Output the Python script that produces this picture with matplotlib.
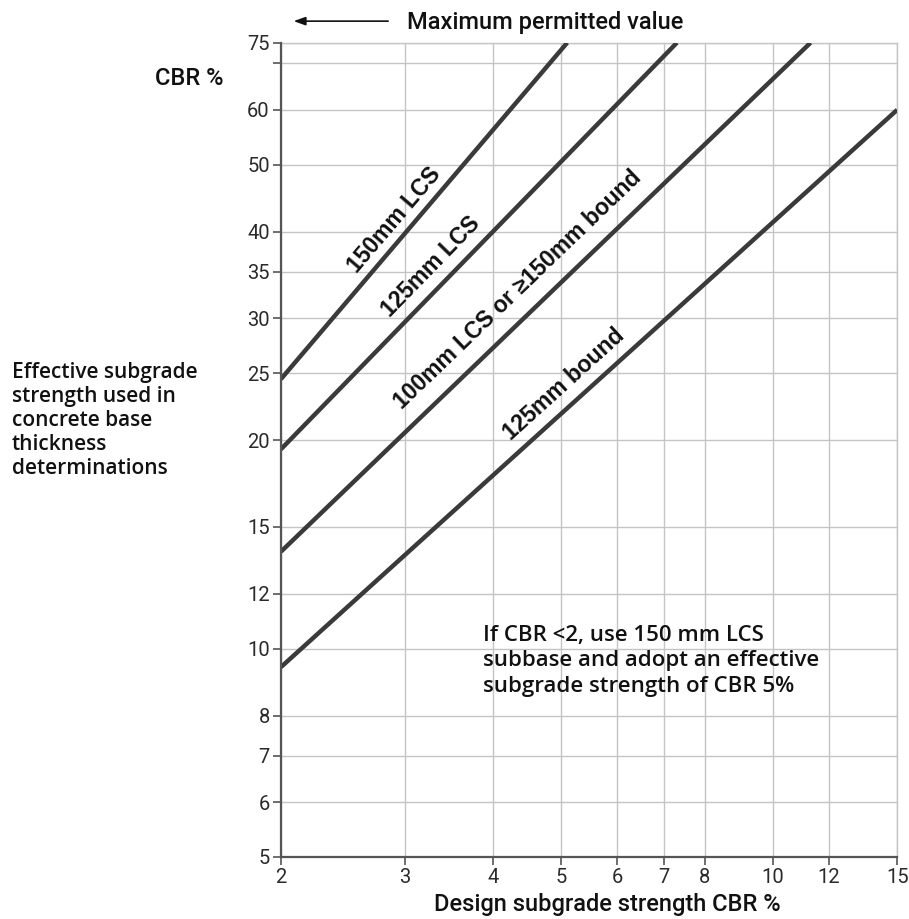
import numpy as np
import matplotlib
matplotlib.use("Agg")
import matplotlib.pyplot as plt
from matplotlib.patches import FancyArrowPatch
from matplotlib.ticker import FixedLocator, NullLocator, NullFormatter

# Design chart data (log-log straight lines between end points)
x_ticks = [2, 3, 4, 5, 6, 7, 8, 10, 12, 15]
y_ticks = [5, 6, 7, 8, 10, 12, 15, 20, 25, 30, 35, 40, 50, 60, 70, 75]
y_tick_labels = ["5", "6", "7", "8", "10", "12", "15", "20", "25", "30",
                 "35", "40", "50", "60", "", "75"]

series_names = ["150mm LCS", "125mm LCS", "100mm LCS or \u2265150mm bound", "125mm bound"]
series_x = [[2, 5.1], [2, 7.3], [2, 11.3], [2, 15]]
series_y = [[24.5, 75], [19.4, 75], [13.8, 75], [9.4, 60]]

# where each line label sits (data coordinates)
label_pos = [(2.90, 41.6), (3.27, 35.6), (4.34, 33.0), (5.05, 24.1)]

TICK_FONT = ["Roboto", "DejaVu Sans"]
TITLE_FONT = ["Roboto", "DejaVu Sans"]
BODY_FONT = ["Open Sans", "DejaVu Sans"]
LINE_COLOR = "#3a3a3a"
GRID_COLOR = "#c4c4c4"

fig = plt.figure(figsize=(9.09, 9.19), dpi=100)
ax = fig.add_axes([0.309, 0.0675, 0.678, 0.886])
ax.set_xscale("log")
ax.set_yscale("log")
ax.set_xlim(2, 15)
ax.set_ylim(5, 75)

ax.xaxis.set_major_locator(FixedLocator(x_ticks))
ax.xaxis.set_minor_locator(NullLocator())
ax.xaxis.set_minor_formatter(NullFormatter())
ax.set_xticklabels([str(v) for v in x_ticks], fontfamily=TICK_FONT, fontsize=14.5)
ax.yaxis.set_major_locator(FixedLocator(y_ticks))
ax.yaxis.set_minor_locator(NullLocator())
ax.yaxis.set_minor_formatter(NullFormatter())
ax.set_yticklabels(y_tick_labels, fontfamily=TICK_FONT, fontsize=14.5)

ax.tick_params(axis="both", direction="out", length=6, width=1.2, color="#555555",
               labelcolor="#2a2a2a", pad=2)

# grid
for xv in x_ticks:
    ax.axvline(xv, color=GRID_COLOR, linewidth=1.0, zorder=1)
for yv in y_ticks:
    ax.axhline(yv, color=GRID_COLOR, linewidth=1.0, zorder=1)

for side in ("top", "right"):
    ax.spines[side].set_color(GRID_COLOR)
    ax.spines[side].set_linewidth(1.0)
for side in ("left", "bottom"):
    ax.spines[side].set_color("#555555")
    ax.spines[side].set_linewidth(1.6)
    ax.spines[side].set_zorder(5)

# Design lines and their labels
fig.canvas.draw()
for name, xs, ys, (lx, ly) in zip(series_names, series_x, series_y, label_pos):
    ax.plot(xs, ys, color=LINE_COLOR, linewidth=3.2, solid_capstyle="butt", zorder=3)
    p0 = ax.transData.transform((xs[0], ys[0]))
    p1 = ax.transData.transform((xs[1], ys[1]))
    ang = np.degrees(np.arctan2(p1[1] - p0[1], p1[0] - p0[0]))
    ax.text(lx, ly, name, rotation=ang, rotation_mode="anchor", ha="center", va="center",
            fontsize=16.5, fontweight="bold", fontfamily=["Liberation Sans", "DejaVu Sans"],
            color="#111111", zorder=4)

# Note inside the plot
ax.text(0.328, 0.285, "If CBR <2, use 150 mm LCS\nsubbase and adopt an effective\nsubgrade strength of CBR 5%",
        transform=ax.transAxes, ha="left", va="top", fontsize=16,
        fontfamily=BODY_FONT, fontweight="semibold",
        color="#111111", linespacing=1.28)

# Axis titles
fig.text(0.668, 0.003, "Design subgrade strength CBR %", ha="center", va="bottom",
         fontsize=17, fontfamily=TITLE_FONT, fontweight="medium", color="#111111")
fig.text(0.171, 0.915, "CBR %", ha="left", va="center",
         fontsize=17, fontfamily=TITLE_FONT, fontweight="medium", color="#111111")
fig.text(0.013, 0.606, "Effective subgrade\nstrength used in\nconcrete base\nthickness\ndeterminations",
         ha="left", va="top", fontsize=15, fontfamily=BODY_FONT,
         fontweight="semibold", color="#111111", linespacing=1.19)

# Maximum permitted value marker
fig.text(0.448, 0.975, "Maximum permitted value", ha="left", va="center",
         fontsize=17, fontfamily=TITLE_FONT, fontweight="medium", color="#111111")
fig.patches.append(FancyArrowPatch(
    (0.427, 0.977), (0.323, 0.977), transform=fig.transFigure,
    arrowstyle="-|>,head_length=7,head_width=2.5", color="#111111", linewidth=1.2,
    shrinkA=0, shrinkB=0))

fig.savefig("out.png", dpi=100)
